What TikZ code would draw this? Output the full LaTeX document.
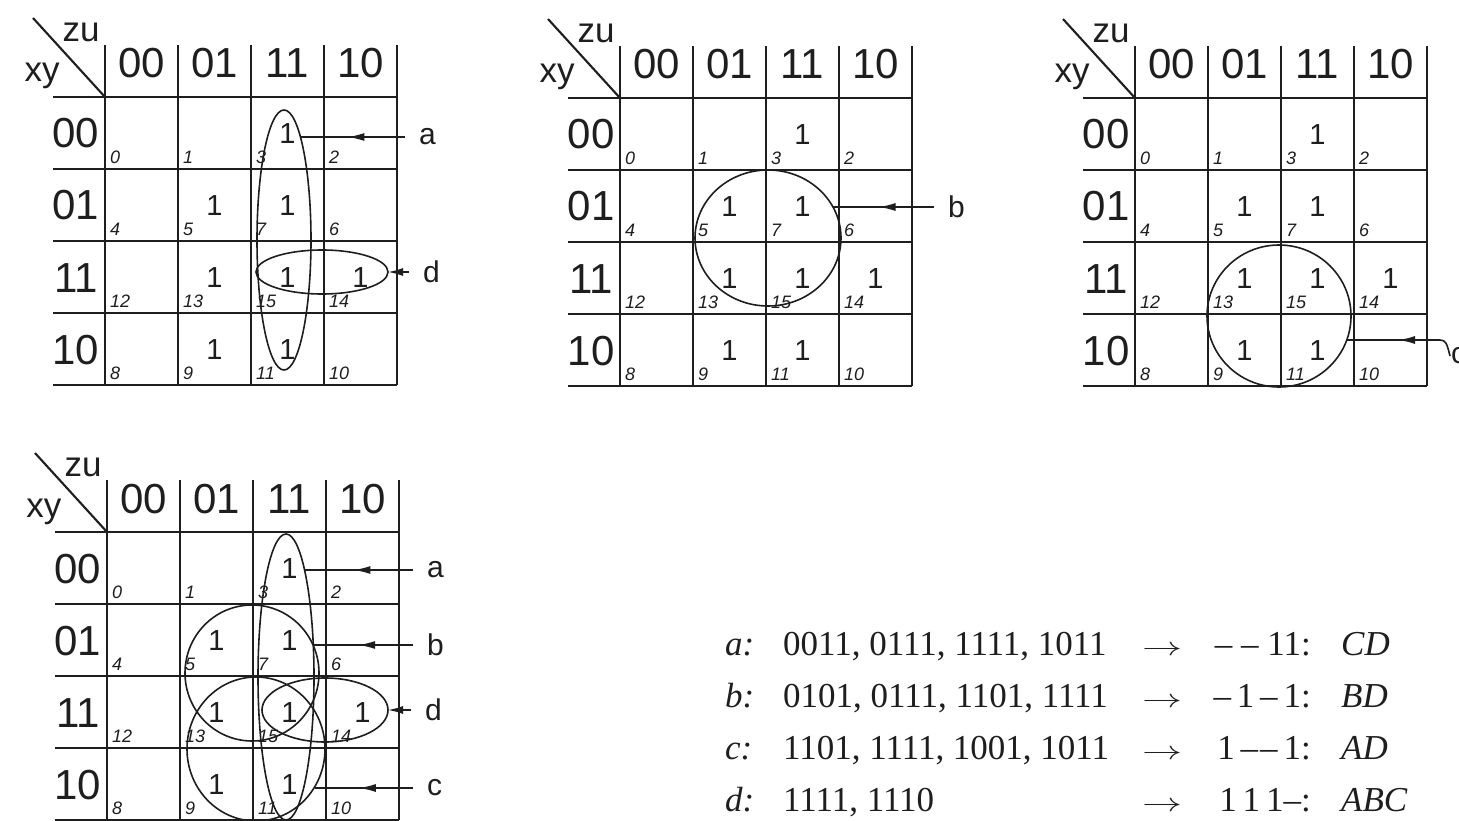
\documentclass[tikz,border=0pt]{standalone}
\usepackage{fontspec}
\newfontfamily\sansf{Liberation Sans}
\newfontfamily\seriff{Liberation Serif}
\usetikzlibrary{shapes.geometric,arrows.meta,decorations.markings}
\definecolor{ink}{HTML}{1E1E1E}
\newcommand{\implarrow}{{\fontsize{10}{10}\selectfont\scalebox{4}[2.6]{$\rightarrow$}}}
\tikzset{
  kline/.style={draw=ink, line width=2.1pt},
  ring/.style={draw=ink, line width=1.6pt, ellipse, inner sep=0pt, outer sep=0pt},
  hdr/.style={font=\sansf\fontsize{42}{42}\selectfont, inner sep=0pt, text=ink},
  corner/.style={font=\sansf\fontsize{35}{35}\selectfont, inner sep=0pt, text=ink},
  idx/.style={font=\sansf\itshape\fontsize{18}{18}\selectfont, inner sep=0pt, anchor=south west, text=ink},
  one/.style={font=\sansf\fontsize{29}{29}\selectfont, inner sep=0pt, text=ink},
  lbl/.style={font=\sansf\fontsize{30}{30}\selectfont, inner ysep=0pt, inner xsep=14pt, anchor=west, text=ink},
  ptr/.style={draw=ink, line width=1.6pt, postaction={decorate},
    decoration={markings, mark=at position 0.55 with {\arrow{Latex[length=17pt,width=8pt]}}}},
  tipptr/.style={draw=ink, line width=1.6pt, -{Latex[length=15pt,width=8pt]}},
  txt/.style={font=\seriff\fontsize{35}{35}\selectfont, inner sep=0pt, anchor=base west, text=ink},
}
% #1 name prefix, #2 x, #3 y of the grid's top-left corner
\newcommand{\kmapgrid}[3]{%
  \begin{scope}[shift={(#2,#3)}]
    \foreach \i in {0,...,4} { \draw[kline] (\i*73,-52) -- (\i*73,288); }
    \foreach \j in {0,...,4} { \draw[kline] (-52,\j*72) -- (292,\j*72); }
    \draw[kline] (-72,-79) -- (0,0);
    \node[corner] (#1-zu) at (-24,-65) {zu};
    \node[corner, anchor=base] (#1-xy) at (-63,-15) {xy};
    \foreach \lab [count=\k from 0] in {00,01,11,10} {
      \node[hdr, anchor=base] (#1-col\k) at (\k*73+36.5,-19) {\lab};
      \node[hdr, anchor=base] (#1-row\k) at (-29,\k*72+51) {\lab};
    }
    \foreach \r/\c/\n in {0/0/0,0/1/1,0/2/3,0/3/2,1/0/4,1/1/5,1/2/7,1/3/6,
                          2/0/12,2/1/13,2/2/15,2/3/14,3/0/8,3/1/9,3/2/11,3/3/10} {
      \node[idx] (#1-i\n) at (\c*73+5,\r*72+67) {\n};
    }
    \foreach \r/\c/\n in {0/2/3,1/1/5,1/2/7,2/1/13,2/2/15,2/3/14,3/1/9,3/2/11} {
      \node[one] (#1-v\n) at (\c*73+36.5,\r*72+37) {1};
    }
  \end{scope}%
}
\begin{document}
\begin{tikzpicture}[x=1pt, y=-1pt]
  \useasboundingbox (0,0) rectangle (1459,821);
  \clip (0,0) rectangle (1459,821);
  \fill[white] (0,0) rectangle (1459,821);

  \kmapgrid{m1}{105}{97}
  \kmapgrid{m2}{620}{98}
  \kmapgrid{m3}{1135}{98}
  \kmapgrid{m4}{107}{532}

  % map 1
  \node[ring, minimum width=54pt, minimum height=260pt] (m1-a) at (284,240) {};
  \node[ring, minimum width=132pt, minimum height=44pt] (m1-d) at (322,272) {};
  \node[lbl] (la1) at (405,137) {a};
  \node[lbl] (ld1) at (409,272) {d};
  \draw[ptr] (la1.west) -- (la1.west -| m1-a.81);
  \draw[tipptr] (ld1.west) -- (m1-d.east);

  % map 2
  \node[ring, minimum width=146pt, minimum height=136pt] (m2-b) at (768,238) {};
  \node[lbl] (lb2) at (934,207) {b};
  \draw[ptr] (lb2.west) -- (lb2.west -| m2-b.25.5);

  % map 3
  \node[ring, minimum width=144pt, minimum height=142pt] (m3-c) at (1279,316) {};
  \node[lbl, inner xsep=1pt] (lc3) at (1450,356) {c};
  \coordinate (k3) at (1440,340);
  \draw[ptr] (lc3.west) .. controls (1447,344) and (1446,340) .. (k3) -- (k3 -| m3-c.-19.5);

  % map 4
  \node[ring, minimum width=56pt, minimum height=286pt] (m4-a) at (286,677) {};
  \node[ring, minimum width=134pt, minimum height=136pt] (m4-b) at (252,673) {};
  \node[ring, minimum width=138pt, minimum height=144pt] (m4-c) at (256,749) {};
  \node[ring, minimum width=126pt, minimum height=64pt] (m4-d) at (325,710) {};
  \node[lbl] (la4) at (413,570) {a};
  \node[lbl] (lb4) at (413,645) {b};
  \node[lbl] (ld4) at (411,710) {d};
  \node[lbl] (lc4) at (413,788) {c};
  \draw[ptr] (la4.west) -- (la4.west -| m4-a.80);
  \draw[ptr] (lb4.west) -- (lb4.west -| m4-b.24.7);
  \draw[tipptr] (ld4.west) -- (m4-d.east);
  \draw[ptr] (lc4.west) -- (lc4.west -| m4-c.-33.9);

  % implicants text
  \node[txt] (ta-l) at (725,655) {\itshape a:};
  \node[txt] (ta-s) at (783,655) {0011, 0111, 1111, 1011};
  \node[txt, anchor=base] (ta-r) at (1162,655) {\implarrow};
  \node[txt, anchor=base east] (ta-c) at (1311,655) {–\ –\ 11:};
  \node[txt] (ta-t) at (1341,655) {\itshape CD};

  \node[txt] (tb-l) at (725,707) {\itshape b:};
  \node[txt] (tb-s) at (783,707) {0101, 0111, 1101, 1111};
  \node[txt, anchor=base] (tb-r) at (1162,707) {\implarrow};
  \node[txt, anchor=base east] (tb-c) at (1311,707) {–\,1\,–\,1:};
  \node[txt] (tb-t) at (1341,707) {\itshape BD};

  \node[txt] (tc-l) at (725,759) {\itshape c:};
  \node[txt] (tc-s) at (783,759) {1101, 1111, 1001, 1011};
  \node[txt, anchor=base] (tc-r) at (1162,759) {\implarrow};
  \node[txt, anchor=base east] (tc-c) at (1311,759) {1\,–\hspace{2pt}–\,1:};
  \node[txt] (tc-t) at (1341,759) {\itshape AD};

  \node[txt] (td-l) at (725,811) {\itshape d:};
  \node[txt] (td-s) at (783,811) {1111, 1110};
  \node[txt, anchor=base] (td-r) at (1162,811) {\implarrow};
  \node[txt, anchor=base east] (td-c) at (1311,811) {1\,1\,1–:};
  \node[txt] (td-t) at (1341,811) {\itshape ABC};
\end{tikzpicture}
\end{document}
